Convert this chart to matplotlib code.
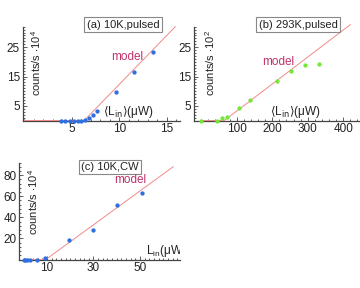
import numpy as np
import matplotlib.pyplot as plt
from matplotlib.ticker import MultipleLocator, FixedLocator

plt.rcParams['font.family'] = ['Liberation Sans', 'DejaVu Sans']
plt.rcParams['mathtext.fontset'] = 'custom'
plt.rcParams['mathtext.rm'] = 'Liberation Sans'
plt.rcParams['mathtext.it'] = 'Liberation Sans:italic'

# (a) 10K, pulsed
a_x = [3.9, 4.3, 4.8, 5.2, 5.6, 6.0, 6.4, 6.8, 7.2, 7.6, 9.6, 11.5, 13.5]
a_y = [0, 0, 0, 0, 0, 0, 0.2, 1.0, 1.8, 3.2, 9.7, 16.4, 23.5]
a_model_x = [0, 6.3, 15.9]
a_model_y = [0, 0, 32]

# (b) 293K, pulsed
b_x = [0, 45, 59, 72, 107, 138, 214, 253, 292, 332]
b_y = [0, 0, 0.75, 1.1, 4.2, 7.0, 13.4, 16.8, 18.9, 19.2]
b_model_x = [0, 65, 420]
b_model_y = [0, 0, 32.7]

# (c) 10K, CW
c_x = [0, 0.4, 1.2, 2.5, 5.5, 9.0, 19.5, 30, 40.2, 51]
c_y = [0, 0, 0, 0, 0, 1.0, 18.4, 27.6, 51.4, 62.9]
c_model_x = [0, 9.5, 64.3]
c_model_y = [0, 0, 88]

W, H = 360, 288
BLUE = '#2f6fe0'
GREEN = '#77e63a'
LINE = '#f08a8a'
MODEL = '#c0306a'
AX = '#444444'

fig = plt.figure(figsize=(3.6, 2.88), dpi=100)


def px(x, y):
    return x / W, 1 - y / H


def panel(left, right, top, bottom, xlim, ylim):
    ax = fig.add_axes([left / W, 1 - bottom / H, (right - left) / W, (bottom - top) / H])
    ax.set_xlim(*xlim)
    ax.set_ylim(*ylim)
    ax.patch.set_visible(False)
    for s in ['top', 'right']:
        ax.spines[s].set_visible(False)
    for s in ['left', 'bottom']:
        ax.spines[s].set_color(AX)
        ax.spines[s].set_linewidth(0.9)
    ax.tick_params(which='both', direction='in', color=AX, labelcolor='#222222',
                   labelsize=8.5, width=0.6, pad=2)
    ax.tick_params(which='major', length=3)
    ax.tick_params(which='minor', length=1.5)
    return ax


def text(s, x, y, **kw):
    fig.text(*px(x, y), s, ha='center', va='center', **kw)


def title(s, x, y):
    text(s, x, y, fontsize=8, color='#222222',
         bbox=dict(boxstyle='square,pad=0.2', fc='white', ec='#888888', lw=0.8))


ylab4 = 'counts/s $\\cdot$10$^4$'
ylab2 = 'counts/s $\\cdot$10$^2$'
xlab = '$\\langle$L$_{\\mathrm{in}}\\rangle$(\u03bcW)'

# panel a
ax = panel(22.6, 180, 26.7, 120.5, (-0.2, 16.4), (0, 32))
ax.plot(a_model_x, a_model_y, color=LINE, lw=0.7, clip_on=False, zorder=3)
ax.plot(a_x, a_y, 'o', color=BLUE, ms=3.1, mec='none', clip_on=False, zorder=4)
ax.xaxis.set_major_locator(FixedLocator([5, 10, 15]))
ax.xaxis.set_minor_locator(MultipleLocator(1))
ax.yaxis.set_major_locator(FixedLocator([5, 15, 25]))
ax.yaxis.set_minor_locator(MultipleLocator(1))
title('(a) 10K,pulsed', 123, 24.7)
text('model', 127, 57, fontsize=8.5, color=MODEL)
text(xlab, 128, 111.5, fontsize=8.5, color='#222222', math_fontfamily='dejavusans')
text(ylab4, 36, 63, fontsize=8, rotation=90, color='#222222')

# panel b
ax = panel(194.1, 359.9, 26.7, 120.5, (-20, 447), (0, 32))
ax.plot(b_model_x, b_model_y, color=LINE, lw=0.7, clip_on=False, zorder=3)
ax.plot(b_x, b_y, 'o', color=GREEN, ms=3.1, mec='none', clip_on=False, zorder=4)
ax.xaxis.set_major_locator(FixedLocator([100, 200, 300, 400]))
ax.xaxis.set_minor_locator(MultipleLocator(20))
ax.yaxis.set_major_locator(FixedLocator([5, 15, 25]))
ax.yaxis.set_minor_locator(MultipleLocator(1))
title('(b) 293K,pulsed', 298, 24.5)
text('model', 278, 61.7, fontsize=8.5, color=MODEL)
text(xlab, 295, 111.5, fontsize=8.5, color='#222222', math_fontfamily='dejavusans')
text(ylab2, 210, 63, fontsize=8, rotation=90, color='#222222')

# panel c
ax = panel(19.3, 180, 162.5, 259.5, (-1.9, 67.2), (0, 92))
ax.plot(c_model_x, c_model_y, color=LINE, lw=0.7, clip_on=False, zorder=3)
ax.plot(c_x, c_y, 'o', color=BLUE, ms=3.1, mec='none', clip_on=False, zorder=4)
ax.xaxis.set_major_locator(FixedLocator([10, 30, 50]))
ax.xaxis.set_minor_locator(MultipleLocator(2))
ax.yaxis.set_major_locator(FixedLocator([20, 40, 60, 80]))
ax.yaxis.set_minor_locator(MultipleLocator(4))
title('(c) 10K,CW', 110, 167)
text('model', 130, 180, fontsize=8.5, color=MODEL)
ax.text(*px(146.5, 251), 'L$_{\\mathrm{in}}$(\u03bcW)', transform=fig.transFigure,
        ha='left', va='center', fontsize=8.5, color='#222222', clip_on=True)
text(ylab4, 33.5, 202, fontsize=8, rotation=90, color='#222222')

fig.savefig('out.png', dpi=100)
